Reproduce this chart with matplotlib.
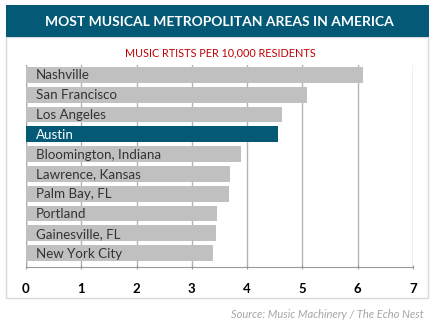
import matplotlib.pyplot as plt
from matplotlib.patches import Rectangle

# data
cities = ["Nashville", "San Francisco", "Los Angeles", "Austin",
          "Bloomington, Indiana", "Lawrence, Kansas", "Palm Bay, FL",
          "Portland", "Gainesville, FL", "New York City"]
artists = [6.09, 5.08, 4.63, 4.56, 3.88, 3.69, 3.67, 3.46, 3.44, 3.39]
highlight = "Austin"
xticks = [0, 1, 2, 3, 4, 5, 6, 7]

TEAL = "#045a76"
GREY_BAR = "#c0c0c0"

plt.rcParams['font.family'] = ['Lato', 'DejaVu Sans']

W, H = 437, 324
fig = plt.figure(figsize=(W / 100, H / 100), dpi=100)
fig.patch.set_facecolor("white")

# panel frame and header band (figure pixel coords)
def px(x0, y0, x1, y1):
    return (x0 / W, 1 - y1 / H), (x1 - x0) / W, (y1 - y0) / H

xy, w, h = px(6, 37, 428, 298)
fig.patches.append(Rectangle(xy, w, h, transform=fig.transFigure,
                             facecolor="none", edgecolor="#d9d9d9", lw=1))
xy, w, h = px(6, 5, 429, 37)
fig.patches.append(Rectangle(xy, w, h, transform=fig.transFigure,
                             facecolor=TEAL, edgecolor="none"))

fig.text(219 / W, 1 - 22 / H, "MOST MUSICAL METROPOLITAN AREAS IN AMERICA",
         color="white", fontsize=10, fontweight="bold", ha="center", va="center")
fig.text(220 / W, 1 - 53 / H, "MUSIC RTISTS PER 10,000 RESIDENTS",
         color="#c00000", fontsize=7.8, ha="center", va="center")
fig.text(424 / W, 1 - 315 / H, "Source: Music Machinery / The Echo Nest",
         color="#a6a6a6", fontsize=8, style="italic", ha="right", va="center")

ax = fig.add_axes([26 / W, 1 - 267 / H, (413 - 26) / W, (267 - 65) / H])
ax.patch.set_alpha(0)
ypos = list(range(len(cities)))
colors = [TEAL if c == highlight else GREY_BAR for c in cities]
ax.barh(ypos, artists, height=0.8, color=colors, zorder=2)

for y, c in zip(ypos, cities):
    ax.text(0.18, y + 0.03, c, va="center", ha="left", fontsize=9.6,
            color="white" if c == highlight else "#333333", zorder=3)

ax.set_xlim(0, 7)
ax.set_ylim(9.7, -0.5)
ax.set_xticks(xticks)
ax.set_yticks([])
ax.grid(axis="x", color="#b3b3b3", lw=1, zorder=1)
ax.set_axisbelow(True)
for s in ["top", "right", "left"]:
    ax.spines[s].set_visible(False)
ax.spines["bottom"].set_color("#999999")
ax.tick_params(axis="x", length=3, color="#999999", direction="inout",
               labelsize=9.5, pad=10)
for lab in ax.get_xticklabels():
    lab.set_fontweight("bold")
ax.axvline(0, color="#aaaaaa", lw=1, zorder=1)

fig.savefig("out.png", dpi=100)
